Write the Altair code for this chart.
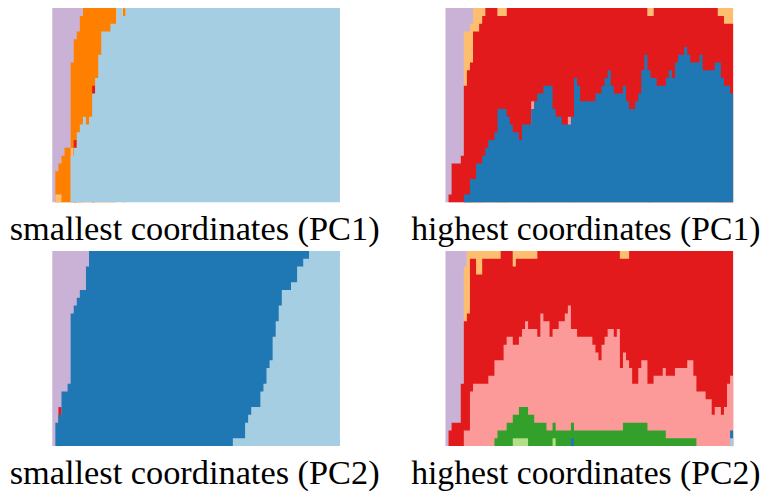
import altair as alt
import pandas as pd

N = 94
ROWS = 25
COLORS = {
    "lightblue": "#a6cee3", "blue": "#1f78b4", "lightgreen": "#b2df8a", "green": "#33a02c",
    "pink": "#fb9a99", "red": "#e31a1c", "lightorange": "#fdbf6f", "orange": "#ff7f00", "purple": "#cab2d6",
}
TITLES = ["smallest coordinates (PC1)", "highest coordinates (PC1)",
          "smallest coordinates (PC2)", "highest coordinates (PC2)"]
TITLE_SIZES = [34.5, 33.8, 34.5, 33.8]
TITLE_DX = [-1.5, -3.5, -1.5, -3.5]
PANEL_HEIGHTS = [195, 195, 196, 196]

# Panel 1: top of each class, column by column
P1_lightblue = [0,0,0,0,0,0,6,7,9,10,11,10,11,14,16,19,22,22,22,23,23,25,25,24] + [25]*70
P1_red_cols = [7, 13]
P1_lightorange_cols = [1, 2, 6]
P1_orange_top = [0,4,5,6,7,7,18,21,22,24] + [25]*84

# Panel 2
P2_blue = [0,0,0,0,0,0,1,1,3,3,5,5,6,7,8,8,9,12,12,12,11,10,9,9,8,10,10,10,12,13,14,14,15,15,15,12,11,11,10,10,
           10,11,16,15,13,13,13,13,13,14,14,15,16,17,15,14,14,14,15,13,12,12,13,14,17,19,17,16,16,15,15,15,16,17,
           16,18,19,19,20,19,18,18,18,19,17,17,17,17,18,18,16,15,15,14]
P2_pink_cols = [28, 40]
P2_red_top = [0,1,5,5,5,6,15,17,18,22,22,23,24,25,25,25,25,24,24,24] + [25]*46 + [24,24] + [25]*21 + [24,24,23,23,23]
P2_lightorange_top = [0,1,5,5,5,6,22,22,23] + [25]*85

# Panel 3
P3_lightblue = [0]*59 + [1,1,1,1,3,4,5,5,5,7,8,10,11,14,16,18,20,20,20,21,21,23,23,24,24] + [25]*10
P3_red_cols = [2]
P3_blue_top = [0,3,5,7,7,8,17,18,19,20,20,23] + [25]*82

# Panel 4
P4_lightblue_cols = [93]
P4_blue_cols = [41, 93]
P4_lightgreen_cols = [22,23,24,25,26,35]
P4_green_top = [0]*16 + [1,2,2,2,3,3,4,4,5,5,5,4,4,3,3,3,3,2,2,3,2,2,2,2,2,3] + [2]*16 + [3]*8 + [2]*6 + [1]*10 + [0]*11 + [2]
P4_pink_top = [0,0,0,0,0,0,2,2,7,8,8,8,8,8,9,9,11,11,11,13,14,14,13,13,14,15,16,15,15,15,14,17,16,16,14,15,15,16,16,17,
               18,15,15,14,14,14,14,14,13,12,11,13,14,15,15,14,15,10,12,11,10,8,8,10,11,11,8,8,9,9,9,10,9,9,9,10,10,10,10,11,
               11,9,7,7,7,6,6,4,5,5,4,5,8,9]
P4_red_top = [0,2,3,3,3,8,16,17,24,24,22,22,24,24,24,24,24,24,25,25,25,25,23,24,24,24,24,24,24,24] + [25]*27 + [24,24,24] + [25]*34
P4_lightorange_top = [0,2,3,3,3,8,23] + [25]*87


def cols_to_counts(cols):
    return [1 if i in cols else 0 for i in range(N)]


def diff(top, *lower):
    return [top[i] - sum(l[i] for l in lower) for i in range(N)]


p1_red = cols_to_counts(P1_red_cols)
p1_lo = cols_to_counts(P1_lightorange_cols)
panel1 = [("lightblue", P1_lightblue), ("red", p1_red), ("lightorange", p1_lo),
          ("orange", diff(P1_orange_top, P1_lightblue, p1_red, p1_lo)),
          ("purple", diff([ROWS]*N, P1_orange_top))]

p2_pink = cols_to_counts(P2_pink_cols)
panel2 = [("blue", P2_blue), ("pink", p2_pink),
          ("red", diff(P2_red_top, P2_blue, p2_pink)),
          ("lightorange", diff(P2_lightorange_top, P2_red_top)),
          ("purple", diff([ROWS]*N, P2_lightorange_top))]

p3_red = cols_to_counts(P3_red_cols)
panel3 = [("lightblue", P3_lightblue), ("blue", diff(P3_blue_top, P3_lightblue, p3_red)),
          ("red", p3_red), ("purple", diff([ROWS]*N, P3_blue_top))]

p4_lb = cols_to_counts(P4_lightblue_cols)
p4_b = cols_to_counts(P4_blue_cols)
p4_lg = cols_to_counts(P4_lightgreen_cols)
# blue and light blue share the base of the green column
p4_green = [max(0, P4_green_top[i] - p4_lg[i] - p4_lb[i] - p4_b[i]) for i in range(N)]
panel4 = [("lightblue", p4_lb), ("blue", p4_b), ("lightgreen", p4_lg),
          ("green", p4_green),
          ("pink", [P4_pink_top[i] - p4_lb[i] - p4_b[i] - p4_lg[i] - p4_green[i] for i in range(N)]),
          ("red", diff(P4_red_top, P4_pink_top)),
          ("lightorange", diff(P4_lightorange_top, P4_red_top)),
          ("purple", diff([ROWS]*N, P4_lightorange_top))]


def build(panel, title, size, dx, height):
    """Painter's layers: highest class first, each a stepped area from 0 up to the class's top."""
    layers = []
    bases = [0] * N
    per_cat = []
    for cat, counts in panel:
        tops = [bases[i] + counts[i] for i in range(N)]
        rows = []
        run = 0
        i = 0
        while i < N:
            if counts[i] > 0:
                j = i
                while j + 1 < N and counts[j + 1] > 0:
                    j += 1
                for k in range(i, j + 1):
                    rows.append({"x": k, "top": tops[k], "run": run})
                rows.append({"x": j + 1, "top": tops[j], "run": run})
                run += 1
                i = j + 1
            else:
                i += 1
        bases = tops
        per_cat.append((cat, rows))
    for cat, rows in reversed(per_cat):
        if not rows:
            continue
        layers.append(
            alt.Chart(pd.DataFrame(rows)).mark_area(interpolate="step-after", color=COLORS[cat]).encode(
                x=alt.X("x:Q", axis=None, scale=alt.Scale(domain=[0, N], nice=False, zero=False)),
                y=alt.Y("top:Q", axis=None, scale=alt.Scale(domain=[0, ROWS], nice=False)),
                y2=alt.Y2(datum=0),
                detail="run:N",
            )
        )
    return alt.layer(*layers, width=289, height=height, title=alt.TitleParams(
        title, orient="bottom", font="Liberation Serif", fontSize=size, fontWeight="normal",
        color="#000", offset=11, anchor="middle", dx=dx))


charts = [build(p, t, s, d, h) for p, t, s, d, h in
          zip([panel1, panel2, panel3, panel4], TITLES, TITLE_SIZES, TITLE_DX, PANEL_HEIGHTS)]
chart = alt.concat(*charts, columns=2, spacing={"column": 106, "row": 49},
                   bounds="flush").properties(
    padding={"left": 1.5, "top": -1, "right": 0, "bottom": 0}, background="white"
).configure_view(stroke=None)
chart.save("out.html", embed_options={"renderer": "svg", "actions": False})
